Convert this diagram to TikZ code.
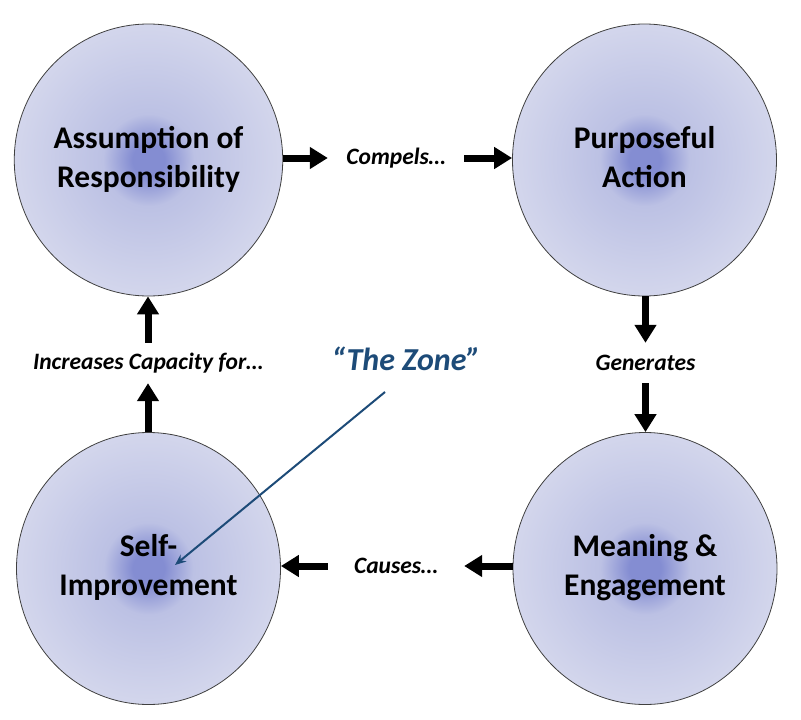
\documentclass[tikz,border=0pt]{standalone}
\usepackage{fontspec}
\setmainfont{Carlito}
\usetikzlibrary{arrows.meta,shapes.geometric}
\definecolor{blobc}{HTML}{848DD2}
\definecolor{midc}{HTML}{BCC1E4}
\definecolor{edgec}{HTML}{D3D6EC}
\definecolor{zoneblue}{HTML}{1D4B78}
\pgfdeclareradialshading{zoneball}{\pgfpointorigin}{color(0bp)=(blobc); color(3bp)=(blobc); color(8.5bp)=(midc); color(25bp)=(edgec); color(50bp)=(edgec)}
\tikzset{
  stage/.style={ellipse, draw=black!75, line width=0.8pt, shading=zoneball, inner sep=0pt,
    minimum width=264pt, minimum height=272pt, align=center,
    font=\fontsize{31.5}{39}\selectfont\bfseries},
  hlabel/.style={inner sep=0pt, minimum width=136pt, minimum height=30pt,
    font=\fontsize{23.5}{28}\selectfont\bfseries\itshape},
  vlabel/.style={inner sep=0pt, minimum height=40pt,
    font=\fontsize{23.5}{28}\selectfont\bfseries\itshape},
  bigarrow/.style={line width=7pt, -{Triangle[length=18pt,width=21pt]}},
  zonearrow/.style={draw=zoneblue, line width=2pt, -{Stealth[length=11pt,width=9pt]}},
}
\begin{document}
\begin{tikzpicture}[x=1pt,y=-1pt]
\useasboundingbox (0,0) rectangle (801,720);
\node[stage] (A) at (148.5,160) {\strut Assumption of\\\strut Responsibility};
\node[stage] (B) at (644.5,160) {\strut Purposeful\\\strut Action};
\node[stage] (D) at (645,568.5) {\strut Meaning \&\\\strut Engagement};
\node[stage] (C) at (148.5,568.5) {\strut Self-\\\strut Improvement};

\node[hlabel] (compels) at (396,158) {Compels…};
\node[hlabel] (causes) at (396,566) {Causes…};
\node[vlabel] (gen) at (645.5,363) {Generates};
\node[vlabel] (inc) at (148,363) {Increases Capacity for…};

\draw[bigarrow] (A.east |- compels.west) -- (compels.west);
\draw[bigarrow] (compels.east) -- (B.west |- compels.east);
\draw[bigarrow] (B.south -| gen.north) -- (gen.north);
\draw[bigarrow] (gen.south) -- (D.north -| gen.south);
\draw[bigarrow] (D.west |- causes.east) -- (causes.east);
\draw[bigarrow] (causes.west) -- (C.east |- causes.west);
\draw[bigarrow] (C.north -| inc.south) -- (inc.south);
\draw[bigarrow] (inc.north) -- (A.south -| inc.north);

\node[text=zoneblue, font=\fontsize{32}{38}\selectfont\bfseries\itshape] (zone) at (406,359) {“The Zone”};
\coordinate (zonetail) at (385,392);
\coordinate (zonetip) at (175,565);
\draw[zonearrow] (zonetail) -- (zonetip);
\end{tikzpicture}
\end{document}
